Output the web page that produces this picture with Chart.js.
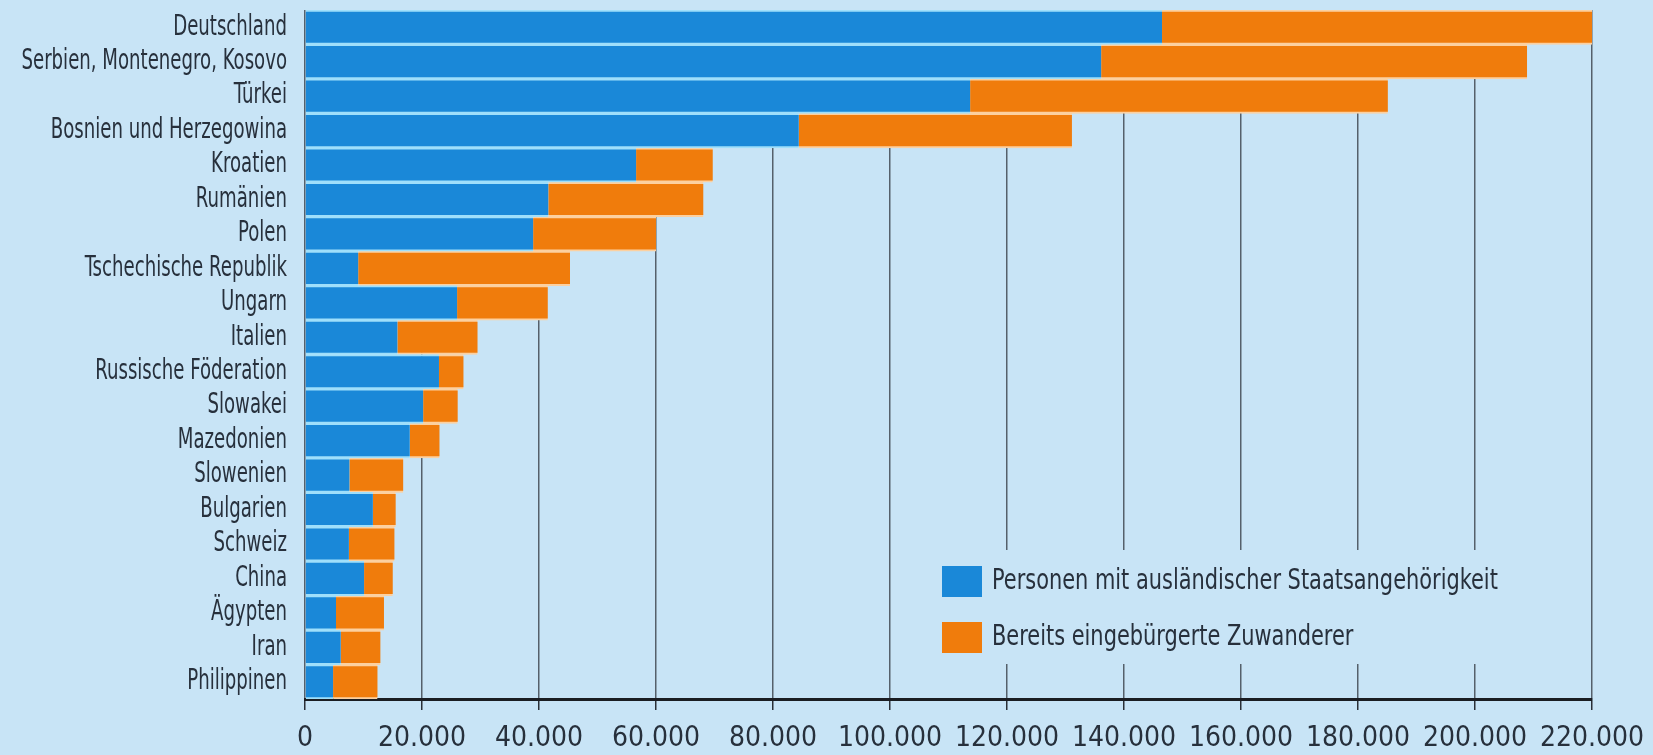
<!DOCTYPE html>
<html>
<head>
<meta charset="utf-8">
<script src="https://cdn.jsdelivr.net/npm/chart.js@4.4.1/dist/chart.umd.min.js"></script>
<style>
  html, body { margin: 0; padding: 0; background: #c8e4f6; }
  #wrap { width: 1653px; height: 755px; position: relative; }
</style>
</head>
<body>
<div id="wrap"><canvas id="c"></canvas></div>
<script>
const categories = [
  "Deutschland", "Serbien, Montenegro, Kosovo", "Türkei", "Bosnien und Herzegowina",
  "Kroatien", "Rumänien", "Polen", "Tschechische Republik", "Ungarn", "Italien",
  "Russische Föderation", "Slowakei", "Mazedonien", "Slowenien", "Bulgarien",
  "Schweiz", "China", "Ägypten", "Iran", "Philippinen"
];
const auslaendisch = [
  146500, 136100, 113700, 84400, 56600, 41600, 39000, 9100, 26000, 15800,
  22900, 20200, 17900, 7600, 11600, 7500, 10100, 5300, 6100, 4800
];
const eingebuergert = [
  73500, 72800, 71400, 46700, 13100, 26500, 21000, 36200, 15500, 13700,
  4200, 5900, 5100, 9200, 3900, 7800, 4900, 8200, 6800, 7600
];
const seriesLabels = [
  "Personen mit ausländischer Staatsangehörigkeit",
  "Bereits eingebürgerte Zuwanderer"
];
const xTicks = [0, 20000, 40000, 60000, 80000, 100000, 120000, 140000, 160000, 180000, 200000, 220000];

const BG = '#c8e4f6';
const BLUE = '#1a88d8';
const ORANGE = '#f07c0c';
const TEXT = '#27303c';
const FONT = '"DejaVu Sans Condensed", "DejaVu Sans", sans-serif';

function fmt(v) {
  return String(v).replace(/\B(?=(\d{3})+(?!\d))/g, '.');
}

// Category labels drawn narrow (condensed look of the original)
const categoryLabels = {
  id: 'categoryLabels',
  afterDraw(chart) {
    const ctx = chart.ctx;
    const ys = chart.scales.y;
    ctx.save();
    ctx.fillStyle = TEXT;
    ctx.font = '28px ' + FONT;
    ctx.textAlign = 'right';
    ctx.textBaseline = 'middle';
    chart.data.labels.forEach((lab, i) => {
      const y = ys.getPixelForValue(i);
      ctx.save();
      ctx.translate(ys.right - 18, y);
      ctx.scale(0.72, 1);
      ctx.fillText(lab, 0, 0);
      ctx.restore();
    });
    ctx.restore();
  }
};

const legendBox = {
  id: 'legendBox',
  afterDraw(chart) {
    const ctx = chart.ctx;
    ctx.save();
    ctx.fillStyle = BG;
    ctx.fillRect(893, 550, 640, 114);
    chart.data.datasets.forEach((ds, i) => {
      const y = 566 + i * 56;
      ctx.fillStyle = ds.backgroundColor;
      ctx.fillRect(942, y, 40, 31);
      ctx.fillStyle = TEXT;
      ctx.font = '28px ' + FONT;
      ctx.textBaseline = 'middle';
      ctx.textAlign = 'left';
      ctx.save();
      ctx.translate(992, y + 16);
      ctx.scale(0.83, 1);
      ctx.fillText(ds.label, 0, 0);
      ctx.restore();
    });
    ctx.restore();
  }
};

new Chart(document.getElementById('c'), {
  type: 'bar',
  data: {
    labels: categories,
    datasets: [
      {
        label: seriesLabels[0],
        data: auslaendisch,
        backgroundColor: BLUE,
        borderColor: '#9fdffb',
        borderWidth: { top: 2, bottom: 2, left: 0, right: 0 },
        borderSkipped: false,
        barPercentage: 1,
        categoryPercentage: 1
      },
      {
        label: seriesLabels[1],
        data: eingebuergert,
        backgroundColor: ORANGE,
        borderColor: '#fcd0a0',
        borderWidth: { top: 2, bottom: 2, left: 0, right: 0 },
        borderSkipped: false,
        barPercentage: 1,
        categoryPercentage: 1
      }
    ]
  },
  options: {
    indexAxis: 'y',
    responsive: true,
    maintainAspectRatio: false,
    animation: false,
    layout: { padding: { left: 0, right: 61, top: 10, bottom: 0 } },
    plugins: {
      legend: { display: false },
      tooltip: { enabled: false }
    },
    scales: {
      x: {
        stacked: true,
        min: 0,
        max: 220000,
        afterBuildTicks(scale) {
          scale.ticks = xTicks.map(v => ({ value: v }));
        },
        afterFit(scale) {
          scale.height = 56;
          scale.paddingLeft = 0;
          scale.paddingRight = 0;
        },
        grid: {
          color: '#55606b',
          lineWidth: 1.5,
          drawTicks: true,
          tickLength: 11,
          tickColor: '#2a2f36'
        },
        border: { display: true, color: '#1a1d22', width: 3 },
        ticks: {
          color: TEXT,
          font: { family: FONT, size: 28 },
          padding: 12,
          maxRotation: 0,
          autoSkip: false,
          callback: (v) => fmt(v)
        }
      },
      y: {
        stacked: true,
        afterFit(scale) {
          scale.width = 305;
          scale.paddingTop = 0;
          scale.paddingBottom = 0;
        },
        grid: { display: false },
        border: { display: false },
        ticks: { display: false }
      }
    }
  },
  plugins: [categoryLabels, legendBox]
});
</script>
</body>
</html>
